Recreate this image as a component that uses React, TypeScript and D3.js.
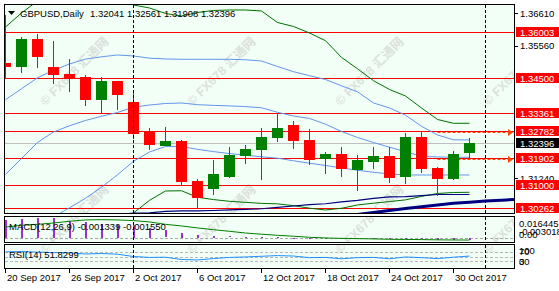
import React from 'react';
import * as d3 from 'd3';

// ---------- DATA ----------
const barDates = [
  '2017-09-20', '2017-09-21', '2017-09-22', '2017-09-25', '2017-09-26', '2017-09-27', '2017-09-28', '2017-09-29',
  '2017-10-02', '2017-10-03', '2017-10-04', '2017-10-05', '2017-10-06', '2017-10-09', '2017-10-10', '2017-10-11',
  '2017-10-12', '2017-10-13', '2017-10-16', '2017-10-17', '2017-10-18', '2017-10-19', '2017-10-20', '2017-10-23',
  '2017-10-24', '2017-10-25', '2017-10-26', '2017-10-27', '2017-10-30', '2017-10-31',
];
const opens = [1.34982, 1.34871, 1.35775, 1.34861, 1.34633, 1.34535, 1.33795, 1.34405, 1.33720, 1.32764, 1.32295, 1.32458, 1.31153, 1.30892, 1.31264, 1.31968, 1.32154, 1.32555, 1.32970, 1.32480, 1.31845, 1.32024, 1.31502, 1.31773, 1.31959, 1.31284, 1.32578, 1.31567, 1.31208, 1.32041];
const highs = [1.36558, 1.35850, 1.35938, 1.35709, 1.35113, 1.34601, 1.34526, 1.34420, 1.34013, 1.32872, 1.32905, 1.32480, 1.31199, 1.31828, 1.32252, 1.32317, 1.32872, 1.33351, 1.33090, 1.32830, 1.32089, 1.32242, 1.31991, 1.32242, 1.32262, 1.32719, 1.32751, 1.31610, 1.32122, 1.32561];
const lows = [1.34503, 1.34676, 1.34839, 1.34297, 1.34056, 1.33599, 1.33371, 1.33469, 1.32523, 1.32164, 1.32280, 1.31013, 1.30230, 1.30687, 1.31251, 1.31707, 1.31166, 1.32415, 1.32197, 1.31655, 1.31355, 1.31284, 1.30827, 1.31535, 1.31088, 1.31045, 1.31404, 1.30664, 1.31176, 1.31908];
const closes = [1.34871, 1.35775, 1.35197, 1.34610, 1.34480, 1.33795, 1.34405, 1.33958, 1.32686, 1.32327, 1.32448, 1.31120, 1.30599, 1.31372, 1.31991, 1.32187, 1.32578, 1.32872, 1.32458, 1.31838, 1.32024, 1.31535, 1.31828, 1.31959, 1.31241, 1.32578, 1.31544, 1.31218, 1.32024, 1.32396];

const bbUpper2 = [1.36166, 1.36623, 1.37014, 1.37373, 1.37536, 1.37634, 1.37536, 1.37308, 1.36884, 1.36786, 1.36607, 1.36525, 1.36639, 1.36705, 1.36721, 1.36721, 1.36688, 1.36313, 1.36183, 1.35971, 1.35720, 1.35175, 1.34803, 1.34415, 1.34128, 1.33916, 1.33525, 1.33149, 1.33025, 1.33025];
const bbUpper1 = [1.33795, 1.34151, 1.34510, 1.34754, 1.34960, 1.35119, 1.35194, 1.35253, 1.35221, 1.35149, 1.35123, 1.35113, 1.35113, 1.35113, 1.35113, 1.35097, 1.35057, 1.34878, 1.34708, 1.34578, 1.34454, 1.34249, 1.34053, 1.33688, 1.33525, 1.33290, 1.32928, 1.32644, 1.32487, 1.32481];
const bbMiddle = [1.31356, 1.31877, 1.32399, 1.32742, 1.32944, 1.33117, 1.33254, 1.33378, 1.33551, 1.33622, 1.33671, 1.33688, 1.33632, 1.33609, 1.33593, 1.33570, 1.33531, 1.33384, 1.33264, 1.33182, 1.32996, 1.32758, 1.32562, 1.32399, 1.32246, 1.32099, 1.31949, 1.31926, 1.31917, 1.31917];
const bbLower1 = [null, null, null, 1.29969, 1.30269, 1.30579, 1.30938, 1.31346, 1.31783, 1.32089, 1.32269, 1.32269, 1.32174, 1.32102, 1.32037, 1.31982, 1.31933, 1.31887, 1.31802, 1.31724, 1.31649, 1.31568, 1.31493, 1.31427, 1.31372, 1.31339, 1.31339, 1.31339, 1.31339, 1.31339];
const bbLower2 = [null, null, null, null, null, null, null, 1.29448, 1.30100, 1.30511, 1.30817, 1.30824, 1.30612, 1.30537, 1.30481, 1.30446, 1.30413, 1.30397, 1.30338, 1.30256, 1.30197, 1.30253, 1.30361, 1.30419, 1.30472, 1.30527, 1.30641, 1.30736, 1.30768, 1.30775];
const maThin = [null, null, null, null, null, null, null, 1.30051, 1.30093, 1.30106, 1.30149, 1.30165, 1.30165, 1.30181, 1.30198, 1.30214, 1.30237, 1.30282, 1.30328, 1.30374, 1.30400, 1.30459, 1.30508, 1.30573, 1.30622, 1.30635, 1.30667, 1.30703, 1.30703, 1.30703];
// shifted moving average, extends 3 bars into the future
const maThickShifted = [null, null, null, null, null, null, null, null, null, null, null, null, null, null, null, null, null, null, null, null, null, 1.29986, 1.30051, 1.30116, 1.30181, 1.30247, 1.30305, 1.30361, 1.30416, 1.30452, 1.30488, 1.30514, 1.30547];

const macdMain = [0.0138, 0.0143, 0.0147, 0.0147, 0.0130, 0.0122, 0.0105, 0.0098, 0.0097, 0.0073, 0.0056, 0.0040, 0.0023, 0.0015, 0.0011, 0.0008, 0.0006, 0.0004, 0.0001, -0.0002, -0.0004, -0.0006, -0.0007, -0.0008, -0.0011, -0.0009, -0.0011, -0.0015, -0.0016, -0.001339];
const macdSignal = [0.0082, 0.0095, 0.0102, 0.0112, 0.0125, 0.0135, 0.0137, 0.0135, 0.0130, 0.0120, 0.0102, 0.0090, 0.0075, 0.0062, 0.0050, 0.0037, 0.0028, 0.0020, 0.0013, 0.0005, 0.0000, -0.0003, -0.0005, -0.0007, -0.0010, -0.0011, -0.0012, -0.0014, -0.0015, -0.00155];
const rsiValues = [70, 72, 69, 67, 66, 61, 63, 60, 50, 46, 47, 37, 35, 41, 46, 48, 51, 54, 52, 45, 46, 40, 45, 46, 40, 48, 45, 41, 47, 51.8299];

const srLevels = [1.36003, 1.34500, 1.33361, 1.32782, 1.31902, 1.31000, 1.30262];
const dashedLevels = [1.32735, 1.31858];
const dashedFrom = '2017-10-27';
const bidPrice = 1.32396;
const priceAxisLabels = [1.36610, 1.35560, 1.31240];
const tickDates = ['2017-09-20', '2017-09-26', '2017-10-02', '2017-10-06', '2017-10-12', '2017-10-18', '2017-10-24', '2017-10-30'];
const tickLabels = ['20 Sep 2017', '26 Sep 2017', '2 Oct 2017', '6 Oct 2017', '12 Oct 2017', '18 Oct 2017', '24 Oct 2017', '30 Oct 2017'];
const monthStarts = ['2017-10-02', '2017-11-01'];
const headerSymbol = 'GBPUSD,Daily';
const headerOHLC = ['1.32041', '1.32561', '1.31908', '1.32396'];
const macdTitle = 'MACD(12,26,9) -0.001339 -0.001550';
const rsiTitle = 'RSI(14) 51.8299';
const macdScaleLabels = ['0.016445', '-0.003018', '0.00'];
const macdScaleValues = [0.016445, -0.003018, 0];
const rsiScaleValues = [100, 70, 30, 0];
const rsiLevels = [70, 50, 30];
const watermarkText = '© FX678 汇通网';
const watermarkCols = [75, 222, 370, 518];
const watermarkRows = [72, 220];

// ---------- CHART ----------
const FONT = "'Liberation Sans', Arial, sans-serif";
const BG = '#F2FFF6';
const GREEN = '#008000';
const RED = '#FF0000';
const BBGREEN = '#007000';
const LIGHTBLUE = '#6495ED';
const NAVY = '#000080';

export default function App() {
  const main = { left: 4.5, right: 514.5, top: 4.5, bottom: 213.5 };
  const macdP = { top: 216.5, bottom: 242.5 };
  const rsiP = { top: 244.5, bottom: 268.5 };

  const x = d3.scaleLinear().domain([0, 32]).range([5.5, 517.5]);
  const y = d3.scaleLinear().domain([1.30262, 1.36003]).range([208, 32]);
  const my = d3.scaleLinear().domain([-0.003018, 0.016445]).range([242, 216]);
  const ry = d3.scaleLinear().domain([0, 100]).range([268, 245]);

  const idxOf = (d: string) => {
    const j = barDates.findIndex((b) => b >= d);
    return j >= 0 ? j : barDates.length;
  };
  const crisp = (v: number) => Math.round(v) + 0.5;
  const colX = (i: number) => Math.floor(x(i)) + 0.5;

  const mkLine = (sc: (v: number) => number) =>
    d3
      .line<number | null>()
      .defined((v) => v != null)
      .x((_, i) => x(i))
      .y((v) => sc(v as number));

  const priceLine = mkLine(y);
  const macdLine = mkLine(my);
  const rsiLine = mkLine(ry);

  const clampLabel = (v: number, top: number, bottom: number) => Math.max(top + 6, Math.min(bottom - 7, v));

  const separators = monthStarts.map(idxOf);
  const dashStart = x(idxOf(dashedFrom));

  return (
    <div style={{ position: 'absolute', left: 0, top: 0 }}>
      <svg width={559} height={291} style={{ display: 'block', background: '#ffffff' }} fontFamily={FONT}>
        <defs>
          <clipPath id="clipMain">
            <rect x={5} y={5} width={509} height={208} />
          </clipPath>
          <clipPath id="clipMacd">
            <rect x={5} y={217} width={509} height={25} />
          </clipPath>
          <clipPath id="clipRsi">
            <rect x={5} y={245} width={509} height={23} />
          </clipPath>
        </defs>

        {/* panel backgrounds */}
        <rect x={main.left} y={main.top} width={main.right - main.left} height={main.bottom - main.top} fill={BG} />
        <rect x={main.left} y={macdP.top} width={main.right - main.left} height={macdP.bottom - macdP.top} fill={BG} />
        <rect x={main.left} y={rsiP.top} width={main.right - main.left} height={rsiP.bottom - rsiP.top} fill={BG} />

        {/* watermarks */}
        <g clipPath="url(#clipMain)">
          {watermarkRows.map((wy) =>
            watermarkCols.map((wx) => (
              <text
                key={`${wx}-${wy}`}
                transform={`translate(${wx},${wy}) rotate(-45)`}
                textAnchor="middle"
                dominantBaseline="middle"
                fontSize={12.5}
                fontWeight="bold"
                fontFamily="'Liberation Sans', 'Noto Sans CJK SC', sans-serif"
                fill="#c9c9c9"
                opacity={0.55}
              >
                {watermarkText}
              </text>
            ))
          )}
        </g>
        <g clipPath="url(#clipMacd)">
          {watermarkCols.map((wx) => (
            <text
              key={`m${wx}`}
              transform={`translate(${wx},${watermarkRows[1]}) rotate(-45)`}
              textAnchor="middle"
              dominantBaseline="middle"
              fontSize={12.5}
              fontWeight="bold"
              fontFamily="'Liberation Sans', 'Noto Sans CJK SC', sans-serif"
              fill="#c9c9c9"
              opacity={0.55}
            >
              {watermarkText}
            </text>
          ))}
        </g>
        <g clipPath="url(#clipRsi)">
          {watermarkCols.map((wx) => (
            <text
              key={`r${wx}`}
              transform={`translate(${wx},${watermarkRows[1]}) rotate(-45)`}
              textAnchor="middle"
              dominantBaseline="middle"
              fontSize={12.5}
              fontWeight="bold"
              fontFamily="'Liberation Sans', 'Noto Sans CJK SC', sans-serif"
              fill="#c9c9c9"
              opacity={0.55}
            >
              {watermarkText}
            </text>
          ))}
        </g>

        {/* main panel content */}
        <g clipPath="url(#clipMain)">
          {/* bid line */}
          <line x1={5} x2={514} y1={crisp(y(bidPrice))} y2={crisp(y(bidPrice))} stroke="#C0C0C0" strokeWidth={1} />
          {/* support / resistance */}
          {srLevels.map((lv) => (
            <line key={lv} x1={5} x2={514} y1={crisp(y(lv))} y2={crisp(y(lv))} stroke={RED} strokeWidth={1} />
          ))}
          {/* dashed levels with arrows */}
          {dashedLevels.map((lv) => {
            const yy = crisp(y(lv));
            return (
              <g key={`d${lv}`}>
                <line x1={dashStart} x2={508} y1={yy} y2={yy} stroke="#FF4500" strokeWidth={1} strokeDasharray="3,2" />
                <path d={`M508,${yy - 3.5}L513,${yy}L508,${yy + 3.5}Z`} fill="#FF4500" />
              </g>
            );
          })}

          {/* indicator lines */}
          <path d={priceLine(bbUpper2) || ''} fill="none" stroke={BBGREEN} strokeWidth={1} />
          <path d={priceLine(bbLower2) || ''} fill="none" stroke={BBGREEN} strokeWidth={1} />
          <path d={priceLine(bbUpper1) || ''} fill="none" stroke={LIGHTBLUE} strokeWidth={1} />
          <path d={priceLine(bbMiddle) || ''} fill="none" stroke={LIGHTBLUE} strokeWidth={1} />
          <path d={priceLine(bbLower1) || ''} fill="none" stroke={LIGHTBLUE} strokeWidth={1} />
          <path d={priceLine(maThin) || ''} fill="none" stroke={NAVY} strokeWidth={1.2} />
          <path d={priceLine(maThickShifted) || ''} fill="none" stroke={NAVY} strokeWidth={3} />

          {/* candles */}
          {opens.map((o, i) => {
            const c = closes[i];
            const col = c >= o ? GREEN : RED;
            const top = Math.round(y(Math.max(o, c)));
            const bot = Math.round(y(Math.min(o, c)));
            const cx = colX(i);
            return (
              <g key={barDates[i]}>
                <line x1={cx} x2={cx} y1={Math.round(y(highs[i]))} y2={Math.round(y(lows[i]))} stroke={col} strokeWidth={1} />
                <rect x={Math.floor(x(i)) - 5} y={top} width={11} height={Math.max(1, bot - top)} fill={col} />
              </g>
            );
          })}

          {/* month separators */}
          {separators.map((s) => (
            <line key={`s${s}`} x1={colX(s)} x2={colX(s)} y1={5} y2={213} stroke="#000" strokeWidth={1} strokeDasharray="3,2" />
          ))}
        </g>

        {/* MACD panel */}
        <g clipPath="url(#clipMacd)">
          <line x1={5} x2={514} y1={crisp(my(0))} y2={crisp(my(0))} stroke="#A8A8A8" strokeWidth={1} strokeDasharray="3,2" />
          {macdMain.map((v, i) => {
            const y0 = my(0);
            const y1 = my(v);
            return (
              <rect
                key={`m${i}`}
                x={Math.floor(x(i))}
                y={Math.round(Math.min(y0, y1))}
                width={2}
                height={Math.max(1, Math.round(Math.abs(y1 - y0)))}
                fill="#9932CC"
              />
            );
          })}
          <path d={macdLine(macdSignal) || ''} fill="none" stroke={GREEN} strokeWidth={1} />
          {separators.map((s) => (
            <line key={`ms${s}`} x1={colX(s)} x2={colX(s)} y1={217} y2={242} stroke="#000" strokeWidth={1} strokeDasharray="3,2" />
          ))}
        </g>
        <text x={9} y={229.5} fontSize={9.5} fill="#000">{macdTitle}</text>

        {/* RSI panel */}
        <g clipPath="url(#clipRsi)">
          {rsiLevels.map((lv) => (
            <line key={`rl${lv}`} x1={5} x2={514} y1={crisp(ry(lv))} y2={crisp(ry(lv))} stroke="#B8B8B8" strokeWidth={1} strokeDasharray="3,2" />
          ))}
          <path d={rsiLine(rsiValues) || ''} fill="none" stroke="#1E90FF" strokeWidth={1} />
          {separators.map((s) => (
            <line key={`rs${s}`} x1={colX(s)} x2={colX(s)} y1={245} y2={268} stroke="#000" strokeWidth={1} strokeDasharray="3,2" />
          ))}
        </g>
        <text x={9} y={257.5} fontSize={9.5} fill="#000">{rsiTitle}</text>

        {/* panel frames */}
        <rect x={main.left} y={main.top} width={main.right - main.left} height={main.bottom - main.top} fill="none" stroke="#000" />
        <rect x={main.left} y={macdP.top} width={main.right - main.left} height={macdP.bottom - macdP.top} fill="none" stroke="#000" />
        <rect x={main.left} y={rsiP.top} width={main.right - main.left} height={rsiP.bottom - rsiP.top} fill="none" stroke="#000" />

        {/* right price axis */}
        {priceAxisLabels.map((lv) => (
          <g key={`pl${lv}`}>
            <line x1={515} x2={518} y1={crisp(y(lv))} y2={crisp(y(lv))} stroke="#000" />
            <text x={520} y={y(lv) + 3.5} fontSize={9.5} fill="#000">{lv.toFixed(5)}</text>
          </g>
        ))}
        {srLevels.map((lv) => {
          const yy = Math.round(y(lv));
          return (
            <g key={`sl${lv}`}>
              <rect x={516} y={yy - 5} width={43} height={10} fill={RED} />
              <text x={520} y={yy + 3.5} fontSize={9.5} fill="#fff">{lv.toFixed(5)}</text>
            </g>
          );
        })}
        <g>
          <rect x={516} y={Math.round(y(bidPrice)) - 5} width={43} height={10} fill="#000" />
          <text x={520} y={Math.round(y(bidPrice)) + 3.5} fontSize={9.5} fill="#fff">{bidPrice.toFixed(5)}</text>
        </g>

        {/* MACD axis labels */}
        {macdScaleValues.map((v, i) => (
          <text key={`ml${i}`} x={519} y={clampLabel(my(v), 216, 242) + (i === 0 ? 5 : i === 1 ? 0 : 2.5)} fontSize={9.5} fill="#000">
            {macdScaleLabels[i]}
          </text>
        ))}
        {/* RSI axis labels */}
        {rsiScaleValues.map((v) => (
          <text key={`rsl${v}`} x={519} y={clampLabel(ry(v), 244, 268) + 3.5} fontSize={9.5} fill="#000">
            {v}
          </text>
        ))}

        {/* time axis */}
        {tickDates.map((d, k) => {
          const i = idxOf(d);
          return (
            <g key={d}>
              <line x1={colX(i)} x2={colX(i)} y1={269} y2={273} stroke="#000" />
              <text x={x(i) + 1.5} y={281} fontSize={9.5} fill="#000">{tickLabels[k]}</text>
            </g>
          );
        })}

        {/* header */}
        <path d="M8,11L15,11L11.5,15Z" fill="#000" />
        <text x={20} y={16.5} fontSize={9.5} fill="#000">{headerSymbol}</text>
        <text x={90} y={16.5} fontSize={9.5} fill="#000">{headerOHLC.join(' ')}</text>
      </svg>
    </div>
  );
}
